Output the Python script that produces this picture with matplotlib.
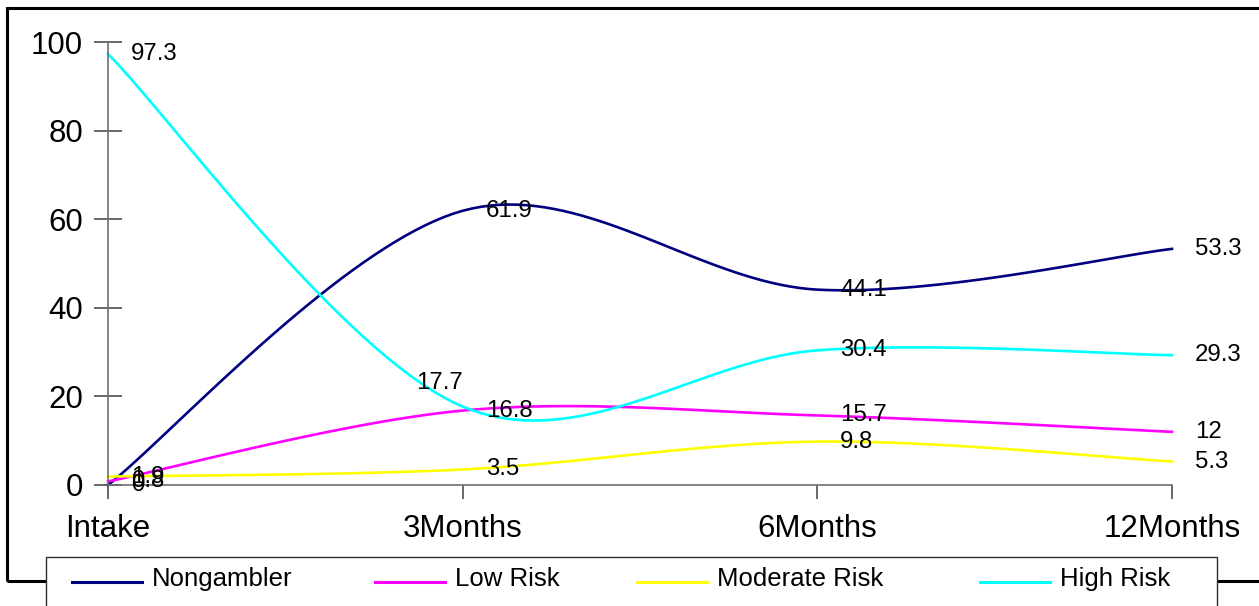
import numpy as np
import matplotlib.pyplot as plt
from matplotlib.patches import Rectangle
from matplotlib.lines import Line2D

plt.rcParams['font.family'] = ['Liberation Sans', 'DejaVu Sans']

# Survey waves and percentage of respondents in each group
waves = ['Intake', '3Months', '6Months', '12Months']
nongambler = [0, 61.9, 44.1, 53.3]
low_risk = [0.8, 16.8, 15.7, 12]
moderate_risk = [1.9, 3.5, 9.8, 5.3]
high_risk = [97.3, 17.7, 30.4, 29.3]

series = [
    ('Nongambler', nongambler, '#000080'),
    ('Low Risk', low_risk, '#FF00FF'),
    ('Moderate Risk', moderate_risk, '#FFFF00'),
    ('High Risk', high_risk, '#00FFFF'),
]

W, H = 1259, 606


def smooth(xs, ys, n=40):
    # spreadsheet-style smoothed line: cubic bezier with catmull-rom control points
    p = np.column_stack([xs, ys]).astype(float)
    p = np.vstack([p[0], p, p[-1]])
    out = []
    for i in range(1, len(p) - 2):
        p0, p1 = p[i], p[i + 1]
        c1 = p0 + (p[i + 1] - p[i - 1]) / 6
        c2 = p1 - (p[i + 2] - p[i]) / 6
        t = np.linspace(0, 1, n)[:, None]
        seg = ((1 - t) ** 3) * p0 + 3 * ((1 - t) ** 2) * t * c1 \
            + 3 * (1 - t) * t ** 2 * c2 + t ** 3 * p1
        out.append(seg if i == 1 else seg[1:])
    out = np.vstack(out)
    return out[:, 0], out[:, 1]


fig = plt.figure(figsize=(W / 100, H / 100), dpi=100)
ax = fig.add_axes([108 / W, 121 / H, 1064 / W, 443 / H])

x = np.arange(len(waves))
for name, vals, col in series:
    sx, sy = smooth(x, vals)
    ax.plot(sx, sy, color=col, lw=1.9, clip_on=False)

# value labels to the right of each point
for name, vals, col in series:
    for i, v in enumerate(vals):
        dx, dy = 23, 0
        if name == 'High Risk' and i == 1:
            dx, dy = -47, 24
        ax.annotate('%g' % v, (x[i], v), xytext=(dx, dy),
                    textcoords='offset pixels', ha='left', va='center',
                    fontsize=17.3, color='black', annotation_clip=False)

ax.set_xlim(0, 3)
ax.set_ylim(0, 100)
ax.set_xticks(x)
ax.set_xticklabels(waves)
ax.set_yticks(range(0, 101, 20))

for s in ['top', 'right']:
    ax.spines[s].set_visible(False)
for s in ['left', 'bottom']:
    ax.spines[s].set_color('#707070')
    ax.spines[s].set_linewidth(1.2)
ax.tick_params(axis='y', direction='inout', length=20, width=1.2,
               color='#505050', labelsize=22.5, pad=8)
ax.tick_params(axis='x', direction='out', length=10, width=1.2,
               color='#505050', labelsize=22.5, pad=11)

# outer chart frame
fig.patches.append(Rectangle((7 / W, 25 / H), 1.2, 573 / H,
                             transform=fig.transFigure, fill=False,
                             edgecolor='black', lw=2.2))

# legend box with one entry per series
fig.patches.append(Rectangle((46 / W, -0.05), 1171 / W, 0.05 + 49 / H,
                             transform=fig.transFigure, facecolor='white',
                             edgecolor='#303030', lw=1.0, zorder=5))
entry_x = [72, 375, 637, 980]
for (name, _, col), ex in zip(series, entry_x):
    fig.lines.append(Line2D([ex / W, (ex + 70) / W], [24 / H, 24 / H],
                            transform=fig.transFigure, color=col, lw=2.2,
                            zorder=6))
    fig.text((ex + 80) / W, 27 / H, name, fontsize=18.5, ha='left',
             va='center', zorder=6)

fig.savefig('out.png', dpi=100)
